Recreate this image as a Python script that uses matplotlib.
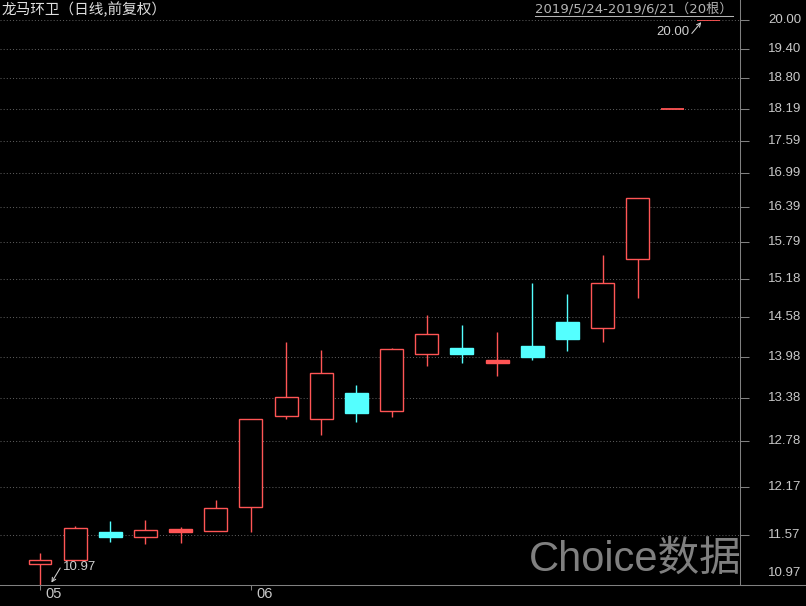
import matplotlib

matplotlib.use("Agg")
import matplotlib.pyplot as plt
from matplotlib import transforms
from matplotlib.lines import Line2D
from matplotlib.ticker import NullLocator

# ── Dados diários (前复权) ─────────────────────────────────────────
STOCK_NAME = "龙马环卫"
dates = [
    "2019-05-24", "2019-05-27", "2019-05-28", "2019-05-29", "2019-05-30",
    "2019-05-31", "2019-06-03", "2019-06-04", "2019-06-05", "2019-06-06",
    "2019-06-10", "2019-06-11", "2019-06-12", "2019-06-13", "2019-06-14",
    "2019-06-17", "2019-06-18", "2019-06-19", "2019-06-20", "2019-06-21",
]
opens = [11.22, 11.26, 11.61, 11.54, 11.60, 11.62, 11.92, 13.13, 13.08, 13.46,
         13.20, 14.02, 14.11, 13.89, 14.14, 14.51, 14.41, 15.51, 18.19, 20.00]
highs = [11.35, 11.68, 11.74, 11.75, 11.67, 12.01, 13.09, 14.21, 14.09, 13.57,
         14.11, 14.61, 14.46, 14.36, 15.13, 14.94, 15.58, 16.56, 18.19, 20.00]
lows = [10.97, 11.26, 11.48, 11.46, 11.47, 11.62, 11.61, 13.08, 12.86, 13.05,
        13.12, 13.84, 13.89, 13.70, 13.93, 14.07, 14.20, 14.88, 18.19, 20.00]
closes = [11.26, 11.65, 11.54, 11.63, 11.62, 11.91, 13.09, 13.39, 13.75, 13.17,
          14.10, 14.33, 14.02, 13.92, 13.98, 14.25, 15.12, 16.56, 18.19, 20.00]

y_ticks = [10.97, 11.57, 12.17, 12.78, 13.38, 13.98, 14.58, 15.18,
           15.79, 16.39, 16.99, 17.59, 18.19, 18.80, 19.40, 20.00]
y_tick_labels = [f"{v:.2f}" for v in y_ticks]
month_ticks = [0, 6]
month_labels = ["05", "06"]

# ── Configurações ──────────────────────────────────────────────────
W, H = 806, 606
RED = "#ff5555"
CYAN = "#54ffff"
GRID = "#5a5a5a"
FRAME = "#808080"
TEXT = "#c8c8c8"
BODY = 0.654  # largura do corpo do candle (em unidades de índice)
STEP = 35.16  # pixels entre candles
LW = 1.0


def main():
    plt.rcParams["font.family"] = ["Liberation Sans", "Noto Sans CJK SC"]

    fig = plt.figure(figsize=(W / 100, H / 100), dpi=100, facecolor="black")
    ax = fig.add_axes([0, 21 / H, 740 / W, 565 / H])
    ax.set_facecolor("black")
    ax.set_yscale("log")
    ax.set_ylim(y_ticks[0], y_ticks[-1])
    ax.set_xlim(-40 / STEP, 700 / STEP)
    for s in ax.spines.values():
        s.set_visible(False)

    # grade pontilhada
    for v in y_ticks[1:]:
        ax.axhline(v, color=GRID, lw=0.75, ls=(0, (1, 2)), zorder=0)

    # candles
    for i in range(len(dates)):
        o, h, l, c = opens[i], highs[i], lows[i], closes[i]
        up = c >= o
        col = RED if up else CYAN
        if h == l:
            ax.hlines(h, i - BODY / 2, i + BODY / 2, color=col, lw=1.3, zorder=3)
            continue
        ax.vlines(i, l, h, color=col, lw=LW, zorder=2)
        # corpo quase nulo vira uma barra cheia
        thin = abs(c - o) / o < 0.0025
        face = col if (thin or not up) else "black"
        ax.bar(i, max(abs(c - o), o * 0.0035), BODY, bottom=min(o, c),
               facecolor=face, edgecolor=col, linewidth=LW, zorder=3)

    # eixo Y à direita
    ax.yaxis.tick_right()
    ax.set_yticks(y_ticks)
    ax.yaxis.set_minor_locator(NullLocator())
    ax.tick_params(axis="y", which="both", length=6.5, width=0.75, color=FRAME,
                   labelright=False, labelleft=False)
    lab_tf = transforms.blended_transform_factory(fig.transFigure, ax.transData)
    for v, s in zip(y_ticks[1:], y_tick_labels[1:]):
        ax.text(768 / W, v, s, transform=lab_tf, ha="left", va="center",
                fontsize=9.5, color=TEXT, clip_on=False)
    fig.text(768 / W, 1 - 573 / H, y_tick_labels[0], ha="left", va="center",
             fontsize=9.5, color=TEXT)

    # eixo X (meses)
    ax.set_xticks(month_ticks)
    ax.tick_params(axis="x", length=3.6, width=0.75, color=FRAME, labelbottom=False)
    for t, s in zip(month_ticks, month_labels):
        ax.annotate(s, xy=(t, 0), xycoords=("data", "axes fraction"),
                    xytext=(5, -9), textcoords="offset pixels",
                    ha="left", va="center", fontsize=10.5, color=TEXT)

    # moldura
    fig.add_artist(Line2D([0, 1], [21 / H, 21 / H], transform=fig.transFigure,
                          color=FRAME, lw=0.75))
    fig.add_artist(Line2D([740 / W, 740 / W], [21 / H, 1], transform=fig.transFigure,
                          color=FRAME, lw=0.75))

    # máximo e mínimo
    arrow = dict(arrowstyle="->", color="#d0d0d0", lw=0.75, mutation_scale=7,
                 shrinkA=0, shrinkB=2)
    i_max = highs.index(max(highs))
    i_min = lows.index(min(lows))
    ax.annotate(f"{highs[i_max]:.2f}", xy=(i_max - 5 / STEP, highs[i_max]),
                xytext=(-14, -12), textcoords="offset pixels",
                ha="right", va="center", fontsize=9.5, color="#d0d0d0",
                arrowprops=dict(arrow, relpos=(1.0, 0.1)), annotation_clip=False)
    ax.annotate(f"{lows[i_min]:.2f}", xy=(i_min + 10 / STEP, lows[i_min]),
                xytext=(13, 18), textcoords="offset pixels",
                ha="left", va="center", fontsize=9.5, color="#d0d0d0",
                arrowprops=dict(arrow, relpos=(0.0, 0.8)), annotation_clip=False)

    # cabeçalho
    fig.text(2 / W, 1 - 10 / H, f"{STOCK_NAME}（日线,前复权）", ha="left", va="center",
             fontsize=10.5, color="#e0e0e0", family=["Noto Sans CJK SC"])

    def fmt(d):
        y, m, dd = d.split("-")
        return f"{y}/{int(m)}/{int(dd)}"

    rng = fig.text(733 / W, 1 - 9 / H,
                   f"{fmt(dates[0])}-{fmt(dates[-1])}（{len(dates)}根）",
                   ha="right", va="center", fontsize=9.5, color="#b4b4b4",
                   family=["DejaVu Sans", "Noto Sans CJK SC"])
    fig.canvas.draw()
    bb = rng.get_window_extent()
    fig.add_artist(Line2D([bb.x0 / W, bb.x1 / W], [1 - 16 / H, 1 - 16 / H],
                          transform=fig.transFigure, color="#b4b4b4", lw=0.75))

    # marca d'água
    fig.text(529 / W, 1 - 571 / H, "Choice数据", ha="left", va="baseline",
             fontsize=30, color="#808080")

    fig.savefig("out.png", dpi=100, facecolor="black")


if __name__ == "__main__":
    main()
